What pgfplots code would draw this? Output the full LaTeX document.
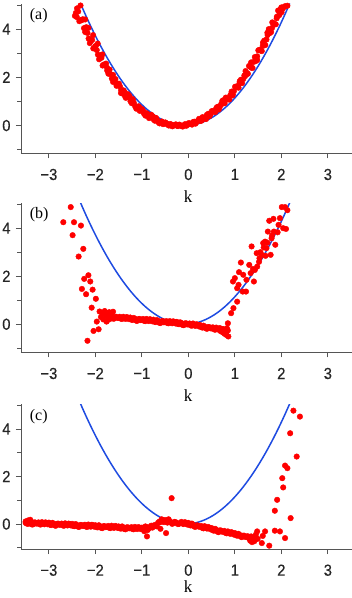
\documentclass[border=0pt]{standalone}
\usepackage{fontspec}
\setmainfont{Liberation Serif}
\newfontfamily\tickfont[FakeStretch=0.92,FakeBold=0.4]{Liberation Sans}
\usepackage{pgfplots}
\pgfplotsset{compat=1.18}
\definecolor{ptred}{RGB}{255,0,0}
\definecolor{curveblue}{RGB}{30,75,225}
\definecolor{axgray}{RGB}{85,85,85}
\pgfplotsset{
 panel/.style={
   scale only axis, width=331pt,
   xmin=-3.6, xmax=3.52,
   axis x line*=bottom, axis y line*=left,
   axis line style={axgray, line width=0.9pt},
   x axis line style={-}, y axis line style={-},
   xtick={-3,-2,-1,0,1,2,3}, xticklabels={−3,−2,−1,0,1,2,3},
   ytick={0,2,4}, yticklabels={0,2,4},
   minor ytick={-1,1,3,5},
   tick align=outside,
   major tick length=5pt, minor tick length=3.5pt,
   every tick/.style={axgray, line width=0.9pt},
   ticklabel style={font=\tickfont\fontsize{16}{16}\selectfont, text=black!85},
   xticklabel style={yshift=-7pt},
   yticklabel style={xshift=-2pt},
   xlabel={k},
   xlabel style={font=\fontsize{17}{17}\selectfont, at={(axis description cs:0.505,0)}, anchor=center, yshift=-43pt},
 },
 dots/.style={only marks, mark=*, mark size=2.8pt, mark options={draw=ptred, fill=ptred}},
 curve/.style={curveblue, line width=1.5pt, smooth, no marks},
}
\tikzset{plabel/.style={anchor=west, font=\fontsize{16}{16}\selectfont}}
\newcommand{\bluecurve}{\addplot[curve] coordinates {
(-2.32,5.0625) (-2.22,4.6225) (-2.12,4.2025) (-2.02,3.8025) (-1.92,3.4225) (-1.82,3.0625) (-1.72,2.7225) (-1.62,2.4025) (-1.52,2.1025) (-1.42,1.8225) (-1.32,1.5625) (-1.22,1.3225) (-1.12,1.1025) (-1.02,0.9025) (-0.92,0.7225) (-0.82,0.5625) (-0.72,0.4225) (-0.62,0.3025) (-0.52,0.2025) (-0.42,0.1225) (-0.32,0.0625) (-0.22,0.0225) (-0.12,0.0025) (-0.02,0.0025) (0.08,0.0225) (0.18,0.0625) (0.28,0.1225) (0.38,0.2025) (0.48,0.3025) (0.58,0.4225) (0.68,0.5625) (0.78,0.7225) (0.88,0.9025) (0.98,1.1025) (1.08,1.3225) (1.18,1.5625) (1.28,1.8225) (1.38,2.1025) (1.48,2.4025) (1.58,2.7225) (1.68,3.0625) (1.78,3.4225) (1.88,3.8025) (1.98,4.2025) (2.08,4.6225) (2.18,5.0625)
};}
\begin{document}
\begin{tikzpicture}
\useasboundingbox (0,0) rectangle (352pt,-598pt);
% ---------------- (a)
\begin{axis}[panel, at={(21pt,-153.3pt)}, anchor=south west, height=149.5pt, ymin=-1.15, ymax=5.05]
\bluecurve
\addplot[dots] coordinates {
(-2.42,4.67) (-2.37,4.73) (-2.32,4.37) (-2.27,4.41) (-2.22,3.88) (-2.17,3.84) (-2.12,3.42) (-2.07,3.55) (-2.02,3.22) (-1.97,3.13) (-1.92,2.75) (-1.87,2.81) (-1.82,2.53) (-1.77,2.57) (-1.72,2.15) (-1.67,2.13) (-1.62,1.81) (-1.57,1.93) (-1.52,1.68) (-1.47,1.62) (-1.42,1.33) (-1.37,1.39) (-1.32,1.18) (-1.27,1.23) (-1.22,0.93) (-1.17,0.93) (-1.12,0.70) (-1.07,0.80) (-1.02,0.63) (-0.97,0.60) (-0.92,0.41) (-0.87,0.47) (-0.82,0.34) (-0.77,0.39) (-0.72,0.20) (-0.67,0.22) (-0.62,0.09) (-0.57,0.17) (-0.52,0.08) (-0.47,0.09) (-0.42,0.00) (-0.37,0.05) (-0.32,0.00) (-0.27,0.05) (-0.22,-0.02) (-0.17,0.01) (-0.12,-0.04) (-0.07,0.06) (-0.02,0.03) (0.03,0.09) (0.08,0.04) (0.13,0.16) (0.18,0.15) (0.23,0.28) (0.28,0.20) (0.33,0.32) (0.38,0.27) (0.43,0.49) (0.48,0.48) (0.53,0.60) (0.58,0.56) (0.63,0.78) (0.68,0.79) (0.73,1.02) (0.78,0.93) (0.83,1.13) (0.88,1.08) (0.93,1.41) (0.98,1.43) (1.03,1.62) (1.08,1.57) (1.13,1.90) (1.18,1.93) (1.23,2.26) (1.28,2.15) (1.33,2.44) (1.38,2.39) (1.43,2.84) (1.48,2.87) (1.53,3.14) (1.58,3.09) (1.63,3.52) (1.68,3.57) (1.73,4.00) (1.78,3.88) (1.83,4.24) (1.88,4.20) (1.93,4.77) (1.98,4.82) (2.03,4.85) (2.08,4.95)
(-2.395,4.86) (-2.345,4.33) (-2.295,4.37) (-2.245,4.04) (-2.195,4.08) (-2.145,3.61) (-2.095,3.52) (-2.045,3.20) (-1.995,3.30) (-1.945,2.94) (-1.895,2.91) (-1.845,2.49) (-1.795,2.53) (-1.745,2.28) (-1.695,2.32) (-1.645,1.95) (-1.595,1.89) (-1.545,1.65) (-1.495,1.74) (-1.445,1.47) (-1.395,1.46) (-1.345,1.15) (-1.295,1.19) (-1.245,1.01) (-1.195,1.06) (-1.145,0.80) (-1.095,0.77) (-1.045,0.61) (-0.995,0.68) (-0.945,0.51) (-0.895,0.51) (-0.845,0.31) (-0.795,0.36) (-0.745,0.25) (-0.695,0.30) (-0.645,0.14) (-0.595,0.14) (-0.545,0.06) (-0.495,0.13) (-0.445,0.04) (-0.395,0.06) (-0.345,-0.03) (-0.295,0.02) (-0.245,-0.01) (-0.195,0.04) (-0.145,-0.02) (-0.095,0.02) (-0.045,-0.01) (0.005,0.10) (0.055,0.06) (0.105,0.15) (0.155,0.08) (0.205,0.20) (0.255,0.20) (0.305,0.35) (0.355,0.29) (0.405,0.39) (0.455,0.39) (0.505,0.60) (0.555,0.58) (0.605,0.74) (0.655,0.67) (0.705,0.89) (0.755,0.92) (0.805,1.16) (0.855,1.09) (0.905,1.27) (0.955,1.29) (1.005,1.61) (1.055,1.60) (1.105,1.84) (1.155,1.76) (1.205,2.08) (1.255,2.13) (1.305,2.47) (1.355,2.40) (1.405,2.64) (1.455,2.68) (1.505,3.12) (1.555,3.11) (1.605,3.44) (1.655,3.34) (1.705,3.76) (1.755,3.84) (1.805,4.28) (1.855,4.20) (1.905,4.52) (1.955,4.58) (2.005,4.70) (2.055,4.92)
(-2.32,4.98) (-2.44,4.55) (-2.40,4.50) (-2.0,3.28) (-1.36,1.21) (1.26,2.18) (1.76,3.97) (2.13,4.97)
(-2.22,4.40) (-2.15,4.05) (-2.05,3.75) (-1.95,3.40) (-1.85,2.95) (-1.75,2.40) (-1.62,2.10) (-1.55,1.75) (-1.45,1.35) (-1.30,1.30) (-1.20,1.10) (-1.05,0.75) (-0.95,0.48) (-0.80,0.45) (-0.70,0.32) (0.40,0.45) (0.60,0.68) (0.75,1.05) (0.95,1.25) (1.10,1.75) (1.22,2.05) (1.35,2.62) (1.48,2.72) (1.60,3.30) (1.70,3.85) (1.80,4.05) (1.90,4.45) (2.00,4.90)
};
\node[plabel] at (rel axis cs:0.016,0.92) {(a)};
\end{axis}
% ---------------- (b)
\begin{axis}[panel, at={(21pt,-352.3pt)}, anchor=south west, height=149.3pt, ymin=-1.17, ymax=5.05]
\bluecurve
\addplot[dots] coordinates {
(-1.75,0.37) (-1.70,0.27) (-1.65,0.32) (-1.60,0.23) (-1.55,0.31) (-1.50,0.27) (-1.45,0.23) (-1.40,0.31) (-1.35,0.22) (-1.30,0.27) (-1.25,0.28) (-1.20,0.18) (-1.15,0.23) (-1.10,0.14) (-1.05,0.22) (-1.00,0.18) (-0.95,0.14) (-0.90,0.22) (-0.85,0.13) (-0.80,0.18) (-0.75,0.19) (-0.70,0.09) (-0.65,0.14) (-0.60,0.05) (-0.55,0.13) (-0.50,0.09) (-0.45,0.05) (-0.40,0.13) (-0.35,0.04) (-0.30,0.09) (-0.25,0.10) (-0.20,0.00) (-0.15,0.05) (-0.10,-0.04) (-0.05,0.04) (0.00,0.00) (0.05,-0.05) (0.10,0.03) (0.15,-0.07) (0.20,-0.03) (0.25,-0.03) (0.30,-0.14) (0.35,-0.10) (0.40,-0.19) (0.45,-0.12) (0.50,-0.17) (0.55,-0.21) (0.60,-0.14) (0.65,-0.23) (0.70,-0.19) (0.75,-0.20) (0.80,-0.30) (0.85,-0.26)
(-1.725,0.28) (-1.675,0.35) (-1.625,0.24) (-1.575,0.30) (-1.525,0.26) (-1.475,0.31) (-1.425,0.22) (-1.375,0.26) (-1.325,0.30) (-1.275,0.21) (-1.225,0.19) (-1.175,0.26) (-1.125,0.15) (-1.075,0.21) (-1.025,0.17) (-0.975,0.22) (-0.925,0.13) (-0.875,0.17) (-0.825,0.21) (-0.775,0.12) (-0.725,0.10) (-0.675,0.17) (-0.625,0.06) (-0.575,0.12) (-0.525,0.08) (-0.475,0.13) (-0.425,0.04) (-0.375,0.08) (-0.325,0.12) (-0.275,0.03) (-0.225,0.01) (-0.175,0.08) (-0.125,-0.03) (-0.075,0.03) (-0.025,-0.01) (0.025,0.03) (0.075,-0.06) (0.125,-0.03) (0.175,0.00) (0.225,-0.09) (0.275,-0.12) (0.325,-0.06) (0.375,-0.17) (0.425,-0.12) (0.475,-0.17) (0.525,-0.13) (0.575,-0.23) (0.625,-0.20) (0.675,-0.16) (0.725,-0.26) (0.775,-0.29) (0.825,-0.22)
(-1.85,0.45) (-1.80,0.55) (-1.78,0.38) (-1.72,0.48) (-1.65,0.45) (-1.62,0.52) (-1.83,0.20) (-1.88,0.30) (-1.76,0.15) (-1.70,0.20) (0.78,-0.40) (0.82,-0.45) (0.70,-0.30) (0.75,-0.35)
(-2.69,4.25) (-2.53,4.88) (-2.46,4.25) (-2.49,3.71) (-2.31,4.11) (-2.36,2.82) (-2.26,3.14) (-2.24,1.89) (-2.15,2.04) (-2.29,1.47) (-2.20,1.25) (-2.11,1.78) (-2.06,1.44) (-2.08,0.69) (-1.99,1.06) (-2.17,-0.69) (-2.04,-0.28) (-1.93,-0.21) (-1.97,0.11) (-1.91,0.53) (-1.83,0.46) (-1.76,0.11) (-1.70,0.50)
(0.83,-0.17) (0.86,-0.51) (0.85,0.04) (0.92,0.46) (0.97,0.67) (1.05,0.94) (0.96,1.78) (1.00,1.92) (1.08,1.64) (1.05,1.50) (1.13,2.57) (1.09,2.17) (1.18,2.06) (1.17,1.36) (1.24,1.36) (1.25,1.85) (1.31,2.47) (1.34,2.13) (1.36,3.24) (1.41,1.78) (1.43,2.26) (1.48,2.40) (1.47,2.96) (1.53,2.75) (1.58,2.89) (1.61,3.38) (1.65,3.44) (1.68,3.17) (1.71,3.86) (1.74,4.31) (1.77,2.89) (1.79,3.58) (1.83,4.39) (1.84,3.86) (1.87,3.31) (1.92,3.83) (1.94,4.14) (1.97,4.42) (2.01,4.88) (2.04,4.00) (2.08,4.88) (2.10,3.97) (2.13,4.75)
(1.55,3.0) (1.62,3.2) (1.70,3.4) (1.66,2.85) (1.80,3.7) (1.52,2.6) (1.39,2.3)
};
\node[plabel] at (rel axis cs:0.016,0.92) {(b)};
\end{axis}
% ---------------- (c)
\begin{axis}[panel, at={(21pt,-549pt)}, anchor=south west, height=145pt, ymin=-1.05, ymax=5.05, xlabel style={yshift=5pt}]
\bluecurve
\addplot[dots] coordinates {
(-3.50,0.11) (-3.45,0.01) (-3.40,0.07) (-3.35,-0.02) (-3.30,0.07) (-3.25,0.03) (-3.20,-0.01) (-3.15,0.08) (-3.10,-0.01) (-3.05,0.05) (-3.00,0.06) (-2.95,-0.04) (-2.90,0.02) (-2.85,-0.07) (-2.80,0.02) (-2.75,-0.02) (-2.70,-0.06) (-2.65,0.03) (-2.60,-0.06) (-2.55,0.00) (-2.50,0.01) (-2.45,-0.09) (-2.40,-0.04) (-2.35,-0.12) (-2.30,-0.04) (-2.25,-0.07) (-2.20,-0.11) (-2.15,-0.02) (-2.10,-0.11) (-2.05,-0.05) (-2.00,-0.05) (-1.95,-0.14) (-1.90,-0.09) (-1.85,-0.17) (-1.80,-0.09) (-1.75,-0.12) (-1.70,-0.16) (-1.65,-0.07) (-1.60,-0.16) (-1.55,-0.10) (-1.50,-0.10) (-1.45,-0.19) (-1.40,-0.14) (-1.35,-0.22) (-1.30,-0.14) (-1.25,-0.17) (-1.20,-0.21) (-1.15,-0.12) (-1.10,-0.21) (-1.05,-0.15) (-1.00,-0.15) (-0.95,-0.24) (-0.90,-0.13) (-0.85,-0.18) (-0.80,-0.07) (-0.75,-0.08) (-0.70,-0.08) (-0.65,0.06) (-0.60,0.08) (-0.55,0.16) (-0.50,0.17) (-0.45,0.06) (-0.40,0.12) (-0.35,0.01) (-0.30,0.09) (-0.25,0.05) (-0.20,0.01) (-0.15,0.09) (-0.10,0.00) (-0.05,0.05) (0.00,0.05) (0.05,-0.06) (0.10,-0.02) (0.15,-0.12) (0.20,-0.06) (0.25,-0.11) (0.30,-0.16) (0.35,-0.09) (0.40,-0.19) (0.45,-0.15) (0.50,-0.17) (0.55,-0.28) (0.60,-0.24) (0.65,-0.34) (0.70,-0.27) (0.75,-0.32) (0.80,-0.37) (0.85,-0.31) (0.90,-0.41) (0.95,-0.37) (1.00,-0.38) (1.05,-0.49) (1.10,-0.45) (1.15,-0.55) (1.20,-0.49) (1.25,-0.54) (1.30,-0.59) (1.35,-0.52) (1.40,-0.62) (1.45,-0.58)
(-3.475,0.02) (-3.425,0.10) (-3.375,-0.01) (-3.325,0.06) (-3.275,0.02) (-3.225,0.07) (-3.175,-0.02) (-3.125,0.03) (-3.075,0.07) (-3.025,-0.01) (-2.975,-0.03) (-2.925,0.05) (-2.875,-0.06) (-2.825,0.01) (-2.775,-0.03) (-2.725,0.02) (-2.675,-0.07) (-2.625,-0.02) (-2.575,0.02) (-2.525,-0.06) (-2.475,-0.08) (-2.425,0.00) (-2.375,-0.11) (-2.325,-0.04) (-2.275,-0.08) (-2.225,-0.03) (-2.175,-0.12) (-2.125,-0.07) (-2.075,-0.03) (-2.025,-0.11) (-1.975,-0.13) (-1.925,-0.05) (-1.875,-0.16) (-1.825,-0.09) (-1.775,-0.13) (-1.725,-0.08) (-1.675,-0.17) (-1.625,-0.12) (-1.575,-0.08) (-1.525,-0.16) (-1.475,-0.18) (-1.425,-0.10) (-1.375,-0.21) (-1.325,-0.14) (-1.275,-0.18) (-1.225,-0.13) (-1.175,-0.22) (-1.125,-0.17) (-1.075,-0.13) (-1.025,-0.21) (-0.975,-0.22) (-0.925,-0.10) (-0.875,-0.25) (-0.825,-0.12) (-0.775,-0.15) (-0.725,-0.04) (-0.675,-0.10) (-0.625,0.10) (-0.575,0.20) (-0.525,0.08) (-0.475,0.14) (-0.425,0.20) (-0.375,0.07) (-0.325,0.03) (-0.275,0.08) (-0.225,0.00) (-0.175,0.04) (-0.125,0.02) (-0.075,0.08) (-0.025,-0.02) (0.025,-0.04) (0.075,0.02) (0.125,-0.10) (0.175,-0.06) (0.225,-0.11) (0.275,-0.08) (0.325,-0.18) (0.375,-0.15) (0.425,-0.12) (0.475,-0.22) (0.525,-0.26) (0.575,-0.20) (0.625,-0.32) (0.675,-0.27) (0.725,-0.32) (0.775,-0.29) (0.825,-0.39) (0.875,-0.37) (0.925,-0.34) (0.975,-0.44) (1.025,-0.47) (1.075,-0.41) (1.125,-0.53) (1.175,-0.49) (1.225,-0.54) (1.275,-0.51) (1.325,-0.61) (1.375,-0.58) (1.425,-0.55)
(-3.45,0.15) (-3.40,0.18) (-3.50,0.05) (-0.89,-0.52) (-0.48,-0.38) (-0.36,1.09) (-0.95,-0.30) (-0.60,-0.20) (1.33,-0.70) (1.37,-0.76) (1.42,-0.72) (1.48,-0.31) (1.49,-0.62) (1.45,-0.45) (1.58,-0.80) (1.65,-0.31) (1.60,-0.50) (1.74,-0.91)
(1.86,-0.28) (1.97,-0.31) (2.08,-0.59) (2.20,0.25) (1.86,0.56) (1.91,1.02) (2.02,1.93) (2.04,1.54) (2.08,2.46) (2.13,2.35) (2.19,3.82) (2.26,4.77) (2.33,2.84) (2.40,4.52)
};
\node[plabel] at (rel axis cs:0.016,0.915) {(c)};
\end{axis}
\end{tikzpicture}
\end{document}
